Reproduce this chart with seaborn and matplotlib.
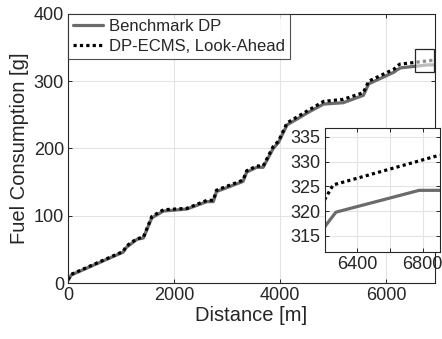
import numpy as np
import pandas as pd
import matplotlib
matplotlib.use("Agg")
import matplotlib.pyplot as plt
from matplotlib.patches import Rectangle
import seaborn as sns

# ---- data ----
dist_dp = [0, 60, 1040, 1100, 1300, 1420, 1580, 1800, 2240, 2620, 2740, 2800,
           3300, 3370, 3560, 3680, 3870, 3970, 4130, 4560, 4820, 5190, 5570,
           5670, 6150, 6206, 6273, 6778, 6903]
fuel_dp = [4, 12, 46, 53, 65, 67, 97, 107, 110, 121, 121, 136,
           151, 165, 172, 172, 200, 209, 235, 255, 266, 268, 279,
           296, 313.5, 316.9, 319.8, 324.2, 324.2]

dist_ecms = [0, 60, 1040, 1100, 1300, 1420, 1580, 1800, 2240, 2620, 2740, 2800,
             3300, 3370, 3560, 3680, 3870, 3970, 4130, 4560, 4820, 5190, 5570,
             5670, 6150, 6206, 6256, 6290, 6903]
fuel_ecms = [5, 13, 47, 55, 66, 68, 99, 109, 111, 123, 123, 138,
             153, 167, 174, 174, 203, 211, 238, 258, 270, 273, 283,
             300, 318, 322.4, 325.3, 325.6, 331.3]

series_names = ["Benchmark DP", "DP-ECMS, Look-Ahead"]
x_ticks = [0, 2000, 4000, 6000]
y_ticks = [0, 100, 200, 300, 400]
inset_x_ticks = [6400, 6600, 6800]
inset_x_labels = ["6400", "", "6800"]
inset_y_ticks = [315, 320, 325, 330, 335]

df = pd.concat([
    pd.DataFrame({"Distance": dist_dp, "Fuel": fuel_dp, "Series": series_names[0]}),
    pd.DataFrame({"Distance": dist_ecms, "Fuel": fuel_ecms, "Series": series_names[1]}),
])

sns.set_theme(style="ticks")
plt.rcParams["font.family"] = ["Liberation Sans", "DejaVu Sans"]

dark = (0.15, 0.15, 0.15)
gray_line = (0.42, 0.42, 0.42)
grid_c = (0.89, 0.89, 0.89)

fig = plt.figure(figsize=(4.42, 3.39), dpi=100)
ax = fig.add_axes([0.154, 0.165, 0.830, 0.794])


def draw(a, with_label=True):
    sns.lineplot(data=df[df.Series == series_names[0]], x="Distance", y="Fuel",
                 color=gray_line, lw=2.3, ax=a,
                 label=series_names[0] if with_label else None,
                 estimator=None, sort=False)
    sns.lineplot(data=df[df.Series == series_names[1]], x="Distance", y="Fuel",
                 color="black", lw=2.3, ls=(0, (1, 1)), ax=a,
                 label=series_names[1] if with_label else None,
                 estimator=None, sort=False)


def style(a, fs):
    a.grid(True, color=grid_c, lw=0.8)
    a.set_axisbelow(True)
    for s in a.spines.values():
        s.set_color(dark)
        s.set_linewidth(0.8)
    a.tick_params(direction="in", length=3, width=0.7, top=True, right=True,
                  colors=dark, labelsize=fs, pad=3)
    a.set_facecolor("white")


draw(ax)
ax.set_xlim(0, 6920)
ax.set_ylim(0, 400)
ax.set_xticks(x_ticks)
ax.set_yticks(y_ticks)
style(ax, 13)
ax.set_xlabel("Distance [m]", fontsize=14.5, color=dark, labelpad=1)
ax.set_ylabel("Fuel Consumption [g]", fontsize=14.5, color=dark, labelpad=3)

leg = ax.legend(loc="upper left", fontsize=12, frameon=True, fancybox=False,
                borderaxespad=0, handlelength=1.8, handletextpad=0.35,
                borderpad=0.3, labelspacing=0.3)
leg.get_frame().set_edgecolor(dark)
leg.get_frame().set_linewidth(0.8)
for t in leg.get_texts():
    t.set_color(dark)

ax.add_patch(Rectangle((6550, 314), 350, 34, facecolor=(1, 1, 1, 0.55),
                       edgecolor=dark, lw=0.9, zorder=5))

# inset
axi = fig.add_axes([0.735, 0.257, 0.260, 0.366])
draw(axi, with_label=False)
if axi.get_legend():
    axi.get_legend().remove()
axi.set_xlim(6206, 6903)
axi.set_ylim(311.8, 336.8)
axi.set_xticks(inset_x_ticks)
axi.set_xticklabels(inset_x_labels)
axi.set_yticks(inset_y_ticks)
style(axi, 13)
axi.set_xlabel("")
axi.set_ylabel("")

fig.savefig("out.png", dpi=100)
